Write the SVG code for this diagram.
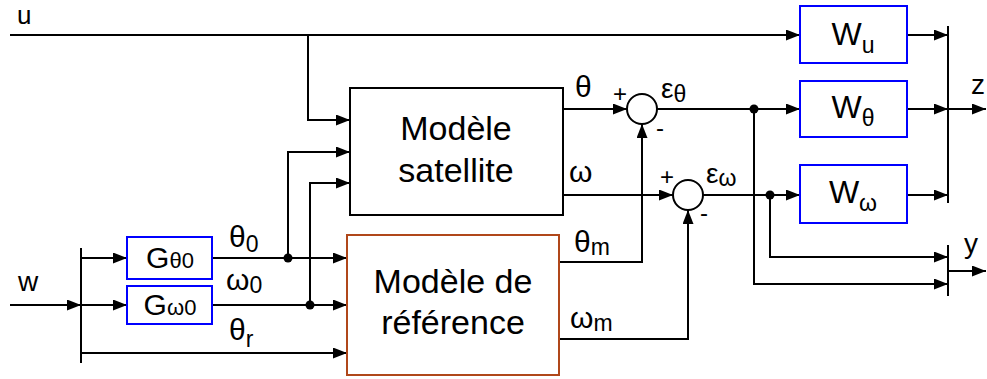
<svg xmlns="http://www.w3.org/2000/svg" width="987" height="379" viewBox="0 0 987 379">
<defs>
<marker id="ah" markerUnits="userSpaceOnUse" markerWidth="15" markerHeight="11" refX="14" refY="5.5" orient="auto"><path d="M0,0 L14,5.5 L0,11 z" fill="#000"/></marker>
<style>
text{font-family:"Liberation Sans",Arial,sans-serif;fill:#000}
.c{fill:none;stroke:#000;stroke-width:2}
.a{marker-end:url(#ah)}
.blk{fill:#fff;stroke:#000;stroke-width:2}
.ref{fill:#fff;stroke:#b0471a;stroke-width:2}
.w{fill:#fff;stroke:#0000ff;stroke-width:2}
.big{font-size:34px}
.lab{font-size:30px}
.sub{font-size:23px}
.sg{font-size:24px}
.dot{fill:#000}
</style>
</defs>
<g id="connectors">
<path class="c a" d="M10,35 H800"/>
<path class="c a" d="M308,35 V120 H350"/>
<path class="c a" d="M907,35 H948"/>
<path class="c a" d="M10,305 H81"/>
<path class="c" d="M81,248 V363"/>
<path class="c a" d="M81,258 H127"/>
<path class="c a" d="M81,305 H127"/>
<path class="c a" d="M81,353 H347"/>
<path class="c a" d="M212,258 H347"/>
<path class="c a" d="M288,258 V152 H350"/>
<path class="c a" d="M212,305 H347"/>
<path class="c a" d="M310,305 V183 H350"/>
<path class="c a" d="M563,109 H627"/>
<path class="c a" d="M563,195 H673"/>
<path class="c a" d="M559,262 H642 V124"/>
<path class="c a" d="M559,339 H688 V210"/>
<path class="c a" d="M657,109 H800"/>
<path class="c a" d="M754,109 V284 H948"/>
<path class="c a" d="M703,195 H800"/>
<path class="c a" d="M770,195 V257 H948"/>
<path class="c a" d="M907,109 H948"/>
<path class="c a" d="M907,195 H948"/>
<path class="c" d="M948,26 V203"/>
<path class="c a" d="M948,109 H986"/>
<path class="c" d="M948,245 V296"/>
<path class="c a" d="M948,271 H986"/>
<circle class="dot" cx="288" cy="258" r="4.5"/>
<circle class="dot" cx="310" cy="305" r="4.5"/>
<circle class="dot" cx="754" cy="109" r="4.5"/>
<circle class="dot" cx="770" cy="195" r="4.5"/>
</g>
<g id="sat">
<rect class="blk" x="350" y="88" width="213" height="127"/>
<text class="big" x="456" y="140" text-anchor="middle">Modèle</text>
<text class="big" x="456" y="182" text-anchor="middle">satellite</text>
</g>
<g id="refmodel">
<rect class="ref" x="347" y="235" width="212" height="140"/>
<text class="big" x="453" y="293" text-anchor="middle">Modèle de</text>
<text class="big" x="453" y="334" text-anchor="middle">référence</text>
</g>
<g id="Gth0">
<rect class="w" x="127" y="237" width="85" height="42"/>
<text x="170" y="268" text-anchor="middle"><tspan font-size="30">G</tspan><tspan font-size="22">θ0</tspan></text>
</g>
<g id="Gom0">
<rect class="w" x="127" y="286" width="85" height="38"/>
<text x="170" y="315" text-anchor="middle"><tspan font-size="30">G</tspan><tspan font-size="22">ω0</tspan></text>
</g>
<g id="Wu">
<rect class="w" x="800" y="6" width="107" height="57"/>
<text x="853" y="45" text-anchor="middle"><tspan font-size="32">W</tspan><tspan font-size="23" dy="8">u</tspan></text>
</g>
<g id="Wth">
<rect class="w" x="800" y="81" width="107" height="56"/>
<text x="853" y="118" text-anchor="middle"><tspan font-size="32">W</tspan><tspan font-size="23" dy="8">θ</tspan></text>
</g>
<g id="Wom">
<rect class="w" x="800" y="165" width="107" height="58"/>
<text x="853" y="203" text-anchor="middle"><tspan font-size="32">W</tspan><tspan font-size="23" dy="8">ω</tspan></text>
</g>
<g id="sum1">
<circle class="blk" cx="642" cy="109" r="15"/>
<text class="sg" x="613" y="102">+</text>
<text class="sg" x="656" y="136">-</text>
</g>
<g id="sum2">
<circle class="blk" cx="688" cy="195" r="15"/>
<text class="sg" x="660" y="185">+</text>
<text class="sg" x="700" y="221">-</text>
</g>
<g id="labels">
<text x="17" y="24" font-size="26">u</text>
<text x="18" y="291" font-size="28">w</text>
<text class="lab" x="229" y="247">θ<tspan class="sub" dy="5">0</tspan></text>
<text class="lab" x="226" y="290">ω<tspan class="sub" dy="3">0</tspan></text>
<text class="lab" x="229" y="340">θ<tspan class="sub" dy="7">r</tspan></text>
<text class="lab" x="575" y="97">θ</text>
<text class="lab" x="569" y="182">ω</text>
<text class="lab" x="574" y="252">θ<tspan class="sub" dy="3">m</tspan></text>
<text class="lab" x="570" y="328">ω<tspan class="sub" dy="3">m</tspan></text>
<text x="661" y="98" font-size="28">ε<tspan class="sub" dy="4">θ</tspan></text>
<text x="706" y="183" font-size="28">ε<tspan class="sub" dy="3">ω</tspan></text>
<text x="971" y="94" font-size="28">z</text>
<text x="964" y="253" font-size="28">y</text>
</g>
</svg>
